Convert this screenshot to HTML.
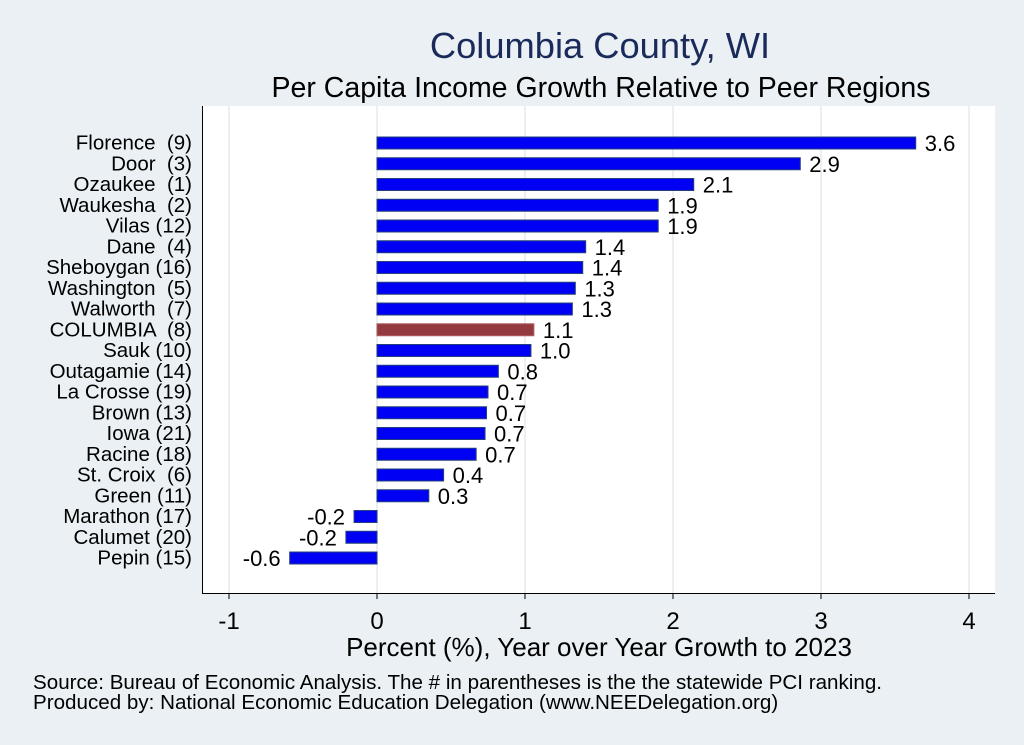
<!DOCTYPE html>
<html><head><meta charset="utf-8"><style>
body{margin:0;background:#eaf0f3;}
svg{display:block;font-family:"Liberation Sans",sans-serif;}
text{white-space:pre;}
</style></head><body>
<svg id="c" width="1024" height="745" viewBox="0 0 1024 745">
<rect x="0" y="0" width="1024" height="745" fill="#eaf0f3"/>
<rect x="203" y="106" width="792" height="487" fill="#ffffff"/>
<text x="600" y="58" font-size="36.3" fill="#1a2a5a" text-anchor="middle">Columbia County, WI</text>
<text x="601" y="97" font-size="28.5" fill="#000" text-anchor="middle">Per Capita Income Growth Relative to Peer Regions</text>
<g id="grid"></g><g id="bars"></g><g id="axes"></g>
<text x="599" y="656" font-size="26" text-anchor="middle">Percent (%), Year over Year Growth to 2023</text>
<text x="33" y="689" font-size="20.6">Source: Bureau of Economic Analysis. The # in parentheses is the the statewide PCI ranking.</text>
<text x="33" y="709" font-size="20.6">Produced by: National Economic Education Delegation (www.NEEDelegation.org)</text>
</svg>
<script>
const categories=["Florence  (9)","Door  (3)","Ozaukee  (1)","Waukesha  (2)","Vilas (12)","Dane  (4)","Sheboygan (16)","Washington  (5)","Walworth  (7)","COLUMBIA  (8)","Sauk (10)","Outagamie (14)","La Crosse (19)","Brown (13)","Iowa (21)","Racine (18)","St. Croix  (6)","Green (11)","Marathon (17)","Calumet (20)","Pepin (15)"];
const values=[3.64,2.86,2.14,1.90,1.90,1.41,1.39,1.34,1.32,1.06,1.04,0.82,0.75,0.74,0.73,0.67,0.45,0.35,-0.155,-0.21,-0.59];
const valueLabels=["3.6","2.9","2.1","1.9","1.9","1.4","1.4","1.3","1.3","1.1","1.0","0.8","0.7","0.7","0.7","0.7","0.4","0.3","-0.2","-0.2","-0.6"];
const highlight="COLUMBIA  (8)";
const xTicks=[-1,0,1,2,3,4];
const NS="http://www.w3.org/2000/svg";
function X(v){return 377+v*148;}
function Y(i){return 143+i*20.75;}
function mk(t,a,p,txt){const e=document.createElementNS(NS,t);for(const k in a)e.setAttribute(k,a[k]);if(txt!==undefined)e.textContent=txt;p.appendChild(e);return e;}
const g=document.getElementById('grid'),b=document.getElementById('bars'),ax=document.getElementById('axes');
xTicks.forEach(t=>{
 const l=mk('line',{x1:X(t),x2:X(t),y1:106,y2:593,stroke:'#e3eaee','stroke-width':1.5},g);
 
 
 const tk=mk('line',{x1:X(t),x2:X(t),y1:593,y2:599,stroke:'#000','stroke-width':1},ax);
 
 
 const tl=mk('text',{x:X(t),y:629,'font-size':24,'text-anchor':'middle'},ax,String(t));
 
 
});
mk('line',{x1:202.5,x2:202.5,y1:106,y2:593,stroke:'#000','stroke-width':1},ax);
mk('line',{x1:202,x2:995,y1:593.5,y2:593.5,stroke:'#000','stroke-width':1},ax);
categories.forEach((c,i)=>{
 const v=values[i],y=Y(i);
 const x0=Math.min(X(0),X(v)),w=Math.abs(X(v)-X(0));
 const r=mk('rect',{x:x0,y:y-6,width:w,height:12,fill:c===highlight?'#923a3f':'#0000f5',stroke:c===highlight?'#b06060':'#23407a','stroke-width':1},b);
 
 
 const vl=mk('text',{x:v>=0?X(v)+9:X(v)-9,y:y+8,'font-size':22,'text-anchor':v>=0?'start':'end'},b,valueLabels[i]);
 
 
 const cl=mk('text',{x:192,y:y+6.5,'font-size':20.5,'text-anchor':'end'},ax,c);
 
 
});
</script>
</body></html>
